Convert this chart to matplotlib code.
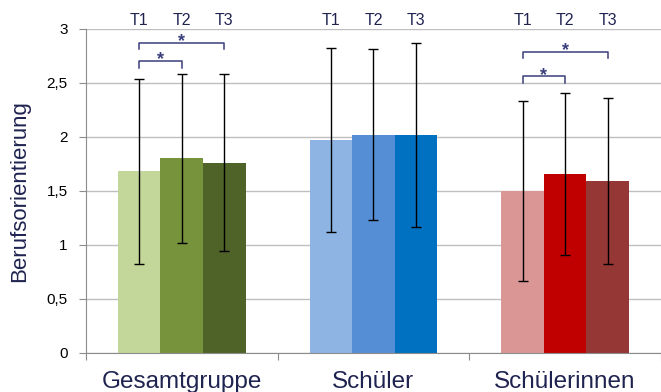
import numpy as np
import matplotlib.pyplot as plt

plt.rcParams['font.family'] = ['Liberation Sans', 'DejaVu Sans']

groups = ['Gesamtgruppe', 'Schüler', 'Schülerinnen']
times = ['T1', 'T2', 'T3']
means = [[1.68, 1.80, 1.76],
         [1.97, 2.02, 2.02],
         [1.50, 1.66, 1.59]]
sds = [[0.86, 0.78, 0.82],
       [0.85, 0.79, 0.85],
       [0.83, 0.75, 0.77]]
colors = [['#C4D79B', '#77933C', '#4F6228'],
          ['#8DB4E2', '#558ED5', '#0070C0'],
          ['#D99694', '#C00000', '#953735']]
yticks = [0, 0.5, 1, 1.5, 2, 2.5, 3]
# (group, from, to, height)
brackets = [(0, 0, 1, 2.70), (0, 0, 2, 2.87), (2, 0, 1, 2.56), (2, 0, 2, 2.79)]

navy = '#1F2350'
bracket_col = '#3A3F7A'

fig = plt.figure(figsize=(6.61, 3.92), dpi=100)
ax = fig.add_axes([0.130, 0.0995, 0.870, 0.827])

w = 1 / 4.5
for g in range(3):
    for t in range(3):
        x = g + 0.5 + (t - 1) * w
        ax.bar(x, means[g][t], width=w, color=colors[g][t], zorder=2)
        ax.errorbar(x, means[g][t], yerr=sds[g][t], color='black', lw=1,
                    capsize=3.6, capthick=1, zorder=3)
        ax.text(x, 3.075, times[t], ha='center', va='center', fontsize=11.5,
                color=navy, clip_on=False)

for g, a, b, h in brackets:
    xa = g + 0.5 + (a - 1) * w
    xb = g + 0.5 + (b - 1) * w
    ax.plot([xa, xa, xb, xb], [h - 0.06, h, h, h - 0.06], color=bracket_col,
            lw=1.1, zorder=3)
    ax.text((xa + xb) / 2, h - 0.03, '*', ha='center', va='baseline',
            fontsize=13, fontweight='bold', color=bracket_col)

ax.set_xlim(0, 2.964)
ax.set_ylim(0, 3)
ax.set_yticks(yticks)
ax.set_yticklabels([str(v).replace('.', ',').replace(',0', '') for v in yticks],
                   fontsize=11)
ax.yaxis.grid(True, color='#BFBFBF', lw=1, zorder=0)
ax.set_xticks([0, 1, 2, 3])
ax.set_xticklabels([])
ax.set_xticks([0.5, 1.5, 2.5], minor=True)
ax.set_xticklabels(groups, minor=True, fontsize=17.5, color=navy)
ax.tick_params(axis='x', which='minor', length=0, pad=13)
ax.tick_params(axis='x', which='major', length=5, color='#8C8C8C')
ax.tick_params(axis='y', length=5, color='#8C8C8C', pad=8)
ax.set_ylabel('Berufsorientierung', fontsize=16, color=navy, labelpad=12)
for s in ['top', 'right']:
    ax.spines[s].set_visible(False)
for s in ['left', 'bottom']:
    ax.spines[s].set_color('#8C8C8C')

fig.savefig('out.png', dpi=100)
